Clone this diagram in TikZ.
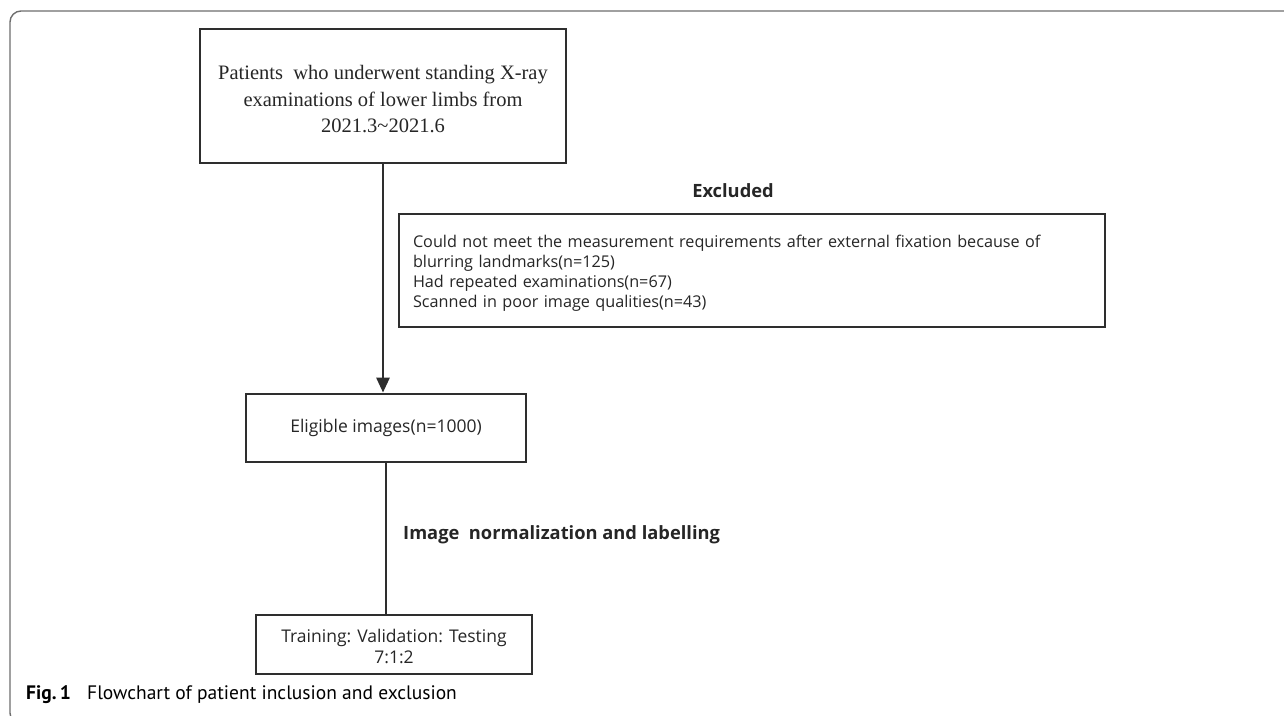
\documentclass[tikz,border=0pt]{standalone}
\usepackage{fontspec}
\setmainfont{Liberation Serif}
\newfontfamily\boxfont{Open Sans}
\newfontfamily\capfont{PT Sans}
\usetikzlibrary{arrows.meta}
\definecolor{boxline}{HTML}{2E2E2E}
\definecolor{txt}{HTML}{262626}
\definecolor{frame}{HTML}{6E6E6E}
\begin{document}
\begin{tikzpicture}[x=1pt,y=-1pt,
  flowbox/.style={draw=boxline, line width=2.8pt, inner sep=0pt, text=txt},
  sansbox/.style={flowbox, font=\boxfont\fontsize{17.5}{21}\selectfont},
  boldlabel/.style={text=txt, inner sep=0pt, font=\boxfont\bfseries\fontsize{18.3}{21}\selectfont},
  conn/.style={draw=boxline, line width=2.8pt},
  capstyle/.style={inner sep=0pt, text=black, font=\capfont\fontsize{19.5}{22}\selectfont}]
\useasboundingbox (0,0) rectangle (1284,715);
\fill[white] (0,0) rectangle (1284,715);
\draw[frame, line width=1.4pt, rounded corners=11pt] (1300,11) -- (10,11) -- (10,724) -- (1300,724);

\node[flowbox, minimum width=366pt, minimum height=134pt, align=center,
  font=\fontsize{20.5}{26.5}\selectfont] (patients) at (383,96)
  {\rule{0pt}{21pt}Patients\ \ who underwent standing X-ray\\examinations of lower limbs from\\2021.3\textasciitilde2021.6};

\node[sansbox, font=\boxfont\fontsize{16.2}{20}\selectfont, minimum width=706pt, minimum height=113pt, text width=678pt, inner xsep=14pt, align=left] (excluded) at (752,270.5)
  {\rule{0pt}{18pt}Could not meet the measurement requirements after external fixation because of\\blurring landmarks(n=125)\\Had repeated examinations(n=67)\\Scanned in poor image qualities(n=43)};

\node[boldlabel, anchor=base] (exlabel) at (733,197) {Excluded};

\node[sansbox, minimum width=280pt, minimum height=68pt] (eligible) at (386,428) {Eligible images(n=1000)};

\node[sansbox, minimum width=276pt, minimum height=59pt, align=center] (split) at (394,644.5)
  {\rule{0pt}{17.5pt}Training: Validation: Testing\\7:1:2};

\node[boldlabel, anchor=base west] (normlabel) at (403,539) {Image\ \ normalization and labelling};

\draw[conn, -{Triangle[width=13pt,length=15pt]}] (patients.south) -- (patients.south |- eligible.north);
\draw[conn] (eligible.south) -- (eligible.south |- split.north);

\node[capstyle, anchor=base west] (figlabel) at (26,699) {\bfseries Fig.\,1};
\node[capstyle, anchor=base west] (figcaption) at (87,699) {Flowchart of patient inclusion and exclusion};
\end{tikzpicture}
\end{document}
